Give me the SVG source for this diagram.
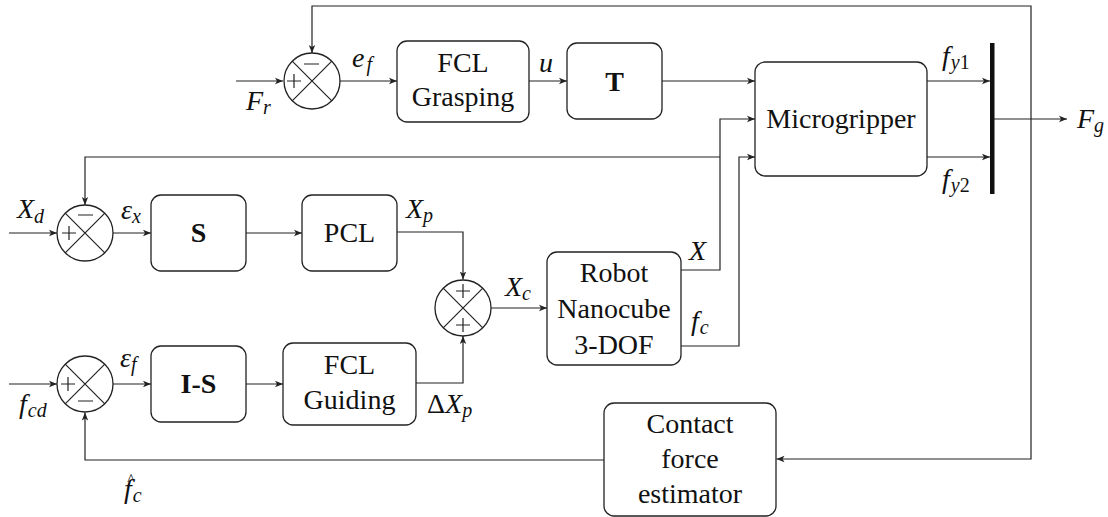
<svg xmlns="http://www.w3.org/2000/svg" width="1108" height="517" viewBox="0 0 1108 517">
<defs>
<style>
.b{fill:#fff;stroke:#222;stroke-width:1.3}
.c{fill:none;stroke:#222;stroke-width:1.2}
.x{fill:none;stroke:#222;stroke-width:1.2}
.t{font-size:28px;text-anchor:middle}
.bd{font-weight:bold}
.m{font-size:28px;font-style:italic}
.u{font-style:normal}
.s{font-size:20px}
</style>
<marker id="a" markerWidth="10" markerHeight="8" refX="8" refY="4" orient="auto" markerUnits="userSpaceOnUse">
<path d="M0,0.8 L8,4 L0,7.2 L2,4 z" fill="#222"/>
</marker>
</defs>
<rect width="1108" height="517" fill="#fff"/>

<g id="connectors">
<path class="c" d="M236,81 H283" marker-end="url(#a)"/>
<path class="c" d="M1031,119 V6 H312 V53" marker-end="url(#a)"/>
<path class="c" d="M1031,119 V459 H776.5" marker-end="url(#a)"/>
<path class="c" d="M340,81 H397" marker-end="url(#a)"/>
<path class="c" d="M529,81 H567" marker-end="url(#a)"/>
<path class="c" d="M662,81 H755" marker-end="url(#a)"/>
<path class="c" d="M927,81 H990" marker-end="url(#a)"/>
<path class="c" d="M927,157 H990" marker-end="url(#a)"/>
<path class="c" d="M994,119 H1067" marker-end="url(#a)"/>
<path class="c" d="M9,233 H57" marker-end="url(#a)"/>
<path class="c" d="M681,270 H720 V119 H755" marker-end="url(#a)"/>
<path class="c" d="M720,157 H85 V205" marker-end="url(#a)"/>
<path class="c" d="M681,346 H739 V157 H755" marker-end="url(#a)"/>
<path class="c" d="M113,233 H151" marker-end="url(#a)"/>
<path class="c" d="M246,233 H302" marker-end="url(#a)"/>
<path class="c" d="M397,232 H463 V279.5" marker-end="url(#a)"/>
<path class="c" d="M491,308 H547" marker-end="url(#a)"/>
<path class="c" d="M9,384 H57" marker-end="url(#a)"/>
<path class="c" d="M113,384 H151" marker-end="url(#a)"/>
<path class="c" d="M246,384 H283" marker-end="url(#a)"/>
<path class="c" d="M416,383 H463 V336" marker-end="url(#a)"/>
<path class="c" d="M604,460 H85 V412.5" marker-end="url(#a)"/>
<rect id="bar" x="990" y="43" width="4.5" height="151" fill="#111"/>
</g>

<g id="sum-top">
<circle class="b" cx="312" cy="81" r="28"/>
<path class="x" d="M292.2,61.2 L331.8,100.8 M292.2,100.8 L331.8,61.2"/>
<path class="x" d="M287,81 H301 M294,74 V88 M304,64 H319"/>
</g>
<g id="sum-x">
<circle class="b" cx="85" cy="233" r="28"/>
<path class="x" d="M65.2,213.2 L104.8,252.8 M65.2,252.8 L104.8,213.2"/>
<path class="x" d="M62,233 H76 M69,226 V240 M78,215 H93"/>
</g>
<g id="sum-mid">
<circle class="b" cx="463" cy="308" r="28"/>
<path class="x" d="M443.2,288.2 L482.8,327.8 M443.2,327.8 L482.8,288.2"/>
<path class="x" d="M456,291 H470 M463,284 V298 M456,325 H470 M463,318 V332"/>
</g>
<g id="sum-f">
<circle class="b" cx="85" cy="384" r="28"/>
<path class="x" d="M65.2,364.2 L104.8,403.8 M65.2,403.8 L104.8,364.2"/>
<path class="x" d="M61,384 H75 M68,377 V391 M78,401 H93"/>
</g>

<g font-family="Liberation Serif, Times New Roman, Times, serif" fill="#111">
<g id="fcl-grasping">
<rect class="b" x="397" y="41" width="132" height="81" rx="10"/>
<text class="t" x="463" y="72">FCL</text>
<text class="t" x="463" y="106">Grasping</text>
</g>
<g id="T">
<rect class="b" x="567" y="43" width="95" height="76" rx="10"/>
<text class="t bd" x="614.5" y="91">T</text>
</g>
<g id="microgripper">
<rect class="b" x="755" y="62" width="172" height="114" rx="10"/>
<text class="t" x="841" y="128">Microgripper</text>
</g>
<g id="S">
<rect class="b" x="151" y="195" width="95" height="76" rx="10"/>
<text class="t bd" x="198.5" y="242">S</text>
</g>
<g id="PCL">
<rect class="b" x="302" y="195" width="95" height="76" rx="10"/>
<text class="t" x="349.5" y="242">PCL</text>
</g>
<g id="IS">
<rect class="b" x="151" y="346" width="95" height="76" rx="10"/>
<text class="t bd" x="198.5" y="393">I-S</text>
</g>
<g id="fcl-guiding">
<rect class="b" x="283" y="343" width="133" height="82" rx="10"/>
<text class="t" x="349.5" y="374">FCL</text>
<text class="t" x="349.5" y="409">Guiding</text>
</g>
<g id="robot">
<rect class="b" x="547" y="252" width="134" height="113" rx="10"/>
<text class="t" x="614" y="282">Robot</text>
<text class="t" x="614" y="318">Nanocube</text>
<text class="t" x="614" y="354">3-DOF</text>
</g>
<g id="contact">
<rect class="b" x="604" y="403" width="172" height="113" rx="10"/>
<text class="t" x="690" y="433">Contact</text>
<text class="t" x="690" y="468">force</text>
<text class="t" x="690" y="503">estimator</text>
</g>

<g id="labels">
<text class="m" x="352" y="67">e<tspan class="s" dx="2" dy="4">f</tspan></text>
<text class="m" x="539" y="72">u</text>
<text class="m" x="246" y="110">F<tspan class="s" dy="4">r</tspan></text>
<text class="m" x="17" y="218">X<tspan class="s" dy="5">d</tspan></text>
<text class="m" x="121" y="219">ε<tspan class="s" dy="4">x</tspan></text>
<text class="m" x="406" y="218">X<tspan class="s" dy="4">p</tspan></text>
<text class="m" x="505" y="296">X<tspan class="s" dy="4">c</tspan></text>
<text class="m" x="689" y="260">X</text>
<text class="m" x="691" y="330">f<tspan class="s" dx="1" dy="4">c</tspan></text>
<text class="m" x="427" y="413"><tspan class="u">Δ</tspan>X<tspan class="s" dy="4">p</tspan></text>
<text class="m" x="19" y="413">f<tspan class="s" dx="1" dy="4">cd</tspan></text>
<text class="m" x="120" y="367">ε<tspan class="s" dy="4">f</tspan></text>
<text class="m" x="124" y="498">f<tspan class="s" dx="1" dy="4">c</tspan></text>
<text x="131" y="485" font-size="16" text-anchor="middle">^</text>
<text class="m" x="942" y="65">f<tspan class="s" dx="1" dy="4">y</tspan><tspan class="s u">1</tspan></text>
<text class="m" x="942" y="188">f<tspan class="s" dx="1" dy="4">y</tspan><tspan class="s u">2</tspan></text>
<text class="m" x="1077" y="128">F<tspan class="s" dy="4">g</tspan></text>
</g>
</g>
</svg>
